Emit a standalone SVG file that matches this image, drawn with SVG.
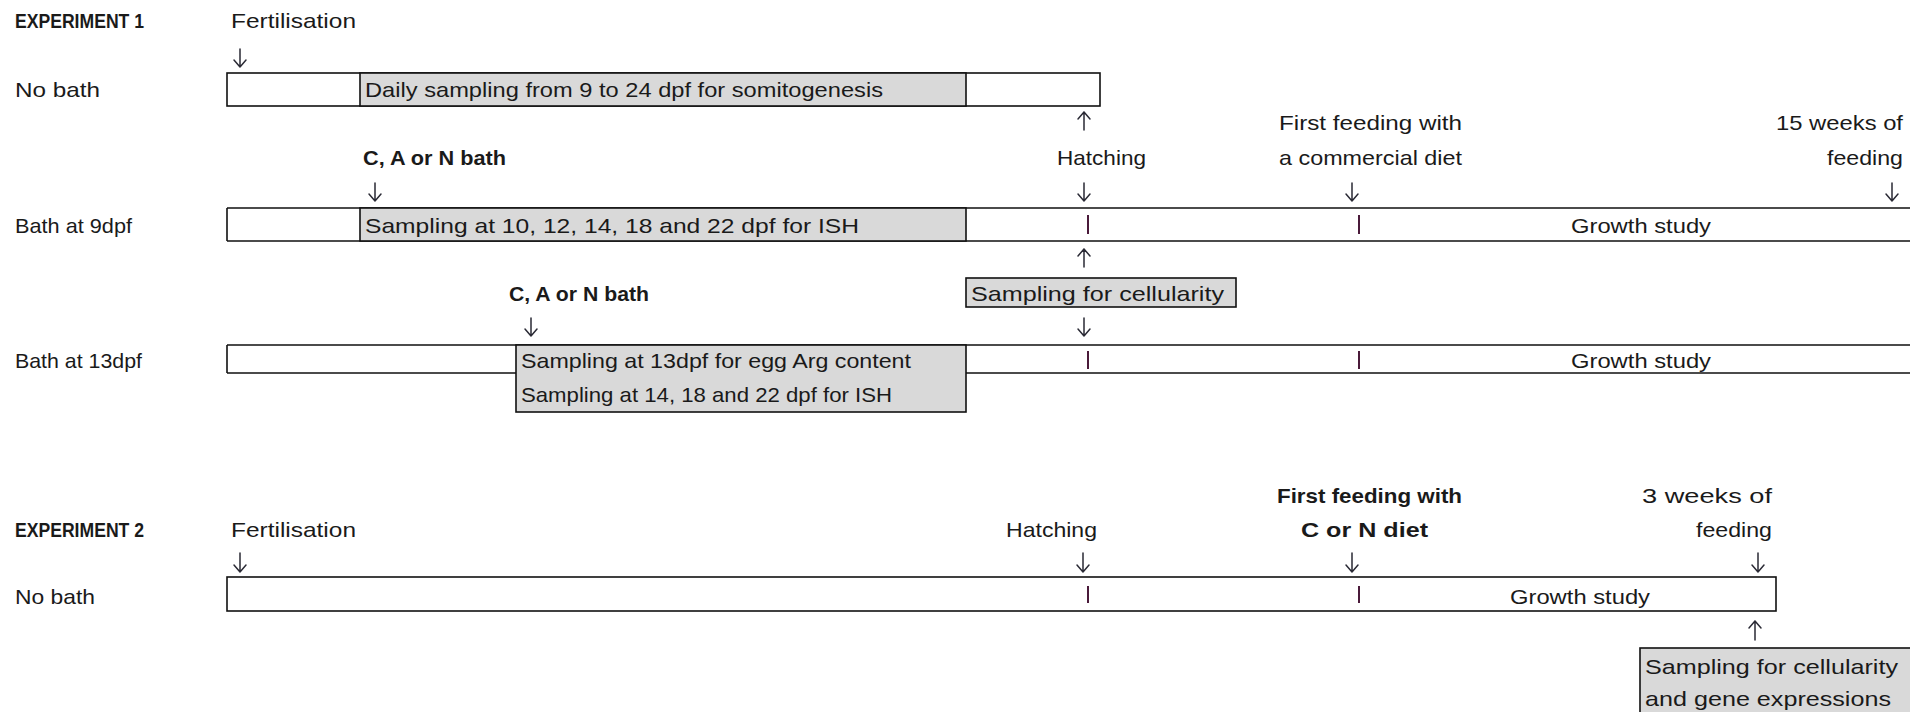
<svg xmlns="http://www.w3.org/2000/svg" width="1910" height="712" viewBox="0 0 1910 712">
<style>
text{font-family:"Liberation Sans",Arial,sans-serif;font-size:21px;fill:#1a1a1a}
.b{font-weight:bold}
.w{fill:#fff;stroke:#111;stroke-width:1.6}
.g{fill:#d9d9d9;stroke:#111;stroke-width:1.6}
.ln{fill:none;stroke:#111;stroke-width:1.6}
.ar{fill:none;stroke:#2a2a35;stroke-width:1.5;stroke-linecap:round;stroke-linejoin:round}
.tk{stroke:#4a1a3a;stroke-width:2}
</style>
<rect width="1910" height="712" fill="#fff"/>
<g id="labels">
<text class="b" x="15" y="28" textLength="129" lengthAdjust="spacingAndGlyphs">EXPERIMENT 1</text>
<text x="15" y="97" textLength="85" lengthAdjust="spacingAndGlyphs">No  bath</text>
<text x="15" y="233" textLength="117" lengthAdjust="spacingAndGlyphs">Bath at 9dpf</text>
<text x="15" y="368" textLength="127" lengthAdjust="spacingAndGlyphs">Bath at 13dpf</text>
<text class="b" x="15" y="537" textLength="129" lengthAdjust="spacingAndGlyphs">EXPERIMENT 2</text>
<text x="15" y="604" textLength="80" lengthAdjust="spacingAndGlyphs">No bath</text>
</g>
<g id="events">
<text x="231" y="28" textLength="125" lengthAdjust="spacingAndGlyphs">Fertilisation</text>
<text x="1057" y="165" textLength="89" lengthAdjust="spacingAndGlyphs">Hatching</text>
<text x="1279" y="130" textLength="183" lengthAdjust="spacingAndGlyphs">First feeding with</text>
<text x="1279" y="165" textLength="183" lengthAdjust="spacingAndGlyphs">a commercial diet</text>
<text x="1776" y="130" textLength="127" lengthAdjust="spacingAndGlyphs">15 weeks of</text>
<text x="1827" y="165" textLength="76" lengthAdjust="spacingAndGlyphs">feeding</text>
<text class="b" x="363" y="165" textLength="143" lengthAdjust="spacingAndGlyphs">C, A or N bath</text>
<text class="b" x="509" y="301" textLength="140" lengthAdjust="spacingAndGlyphs">C, A or N bath</text>
<text x="231" y="537" textLength="125" lengthAdjust="spacingAndGlyphs">Fertilisation</text>
<text x="1006" y="537" textLength="91" lengthAdjust="spacingAndGlyphs">Hatching</text>
<text class="b" x="1277" y="503" textLength="185" lengthAdjust="spacingAndGlyphs">First feeding with</text>
<text class="b" x="1301" y="537" textLength="127" lengthAdjust="spacingAndGlyphs">C or N diet</text>
<text x="1642" y="503" textLength="130" lengthAdjust="spacingAndGlyphs">3 weeks of</text>
<text x="1696" y="537" textLength="76" lengthAdjust="spacingAndGlyphs">feeding</text>
</g>
<g id="row1">
<rect class="w" x="227" y="73" width="873" height="33"/>
<rect class="g" x="360" y="73" width="606" height="33"/>
<text x="365" y="97" textLength="518" lengthAdjust="spacingAndGlyphs">Daily sampling from 9 to 24 dpf  for somitogenesis</text>
</g>
<g id="row2">
<path class="ln" d="M227 208H1912M227 241H1912M227 208V241"/>
<rect class="g" x="360" y="208" width="606" height="33"/>
<text x="365" y="233" textLength="494" lengthAdjust="spacingAndGlyphs">Sampling at 10, 12, 14, 18 and 22 dpf for ISH</text>
<text x="1571" y="233" textLength="140" lengthAdjust="spacingAndGlyphs">Growth study</text>
</g>
<g id="cellularity1">
<rect class="g" x="966" y="278" width="270" height="29"/>
<text x="971" y="301" textLength="253" lengthAdjust="spacingAndGlyphs">Sampling for cellularity</text>
</g>
<g id="row3">
<path class="ln" d="M227 345H1912M227 373H1912M227 345V373"/>
<rect class="g" x="516" y="345" width="450" height="67"/>
<text x="521" y="368" textLength="390" lengthAdjust="spacingAndGlyphs">Sampling at 13dpf for egg Arg content</text>
<text x="521" y="402" textLength="371" lengthAdjust="spacingAndGlyphs">Sampling at 14, 18 and 22 dpf for ISH</text>
<text x="1571" y="368" textLength="140" lengthAdjust="spacingAndGlyphs">Growth study</text>
</g>
<g id="row4">
<rect class="w" x="227" y="577" width="1549" height="34"/>
<text x="1510" y="604" textLength="140" lengthAdjust="spacingAndGlyphs">Growth study</text>
</g>
<g id="cellularity2">
<rect class="g" x="1640" y="648" width="275" height="70"/>
<text x="1645" y="674" textLength="253" lengthAdjust="spacingAndGlyphs">Sampling for cellularity</text>
<text x="1645" y="706" textLength="246" lengthAdjust="spacingAndGlyphs">and gene expressions</text>
</g>
<g id="connectors">
<path class="ar" d="M240 49V67M234 60L240 67L246 60"/>
<path class="ar" d="M1084 112V130M1078 119L1084 112L1090 119"/>
<path class="ar" d="M375 183V201M369 194L375 201L381 194"/>
<path class="ar" d="M1084 183V201M1078 194L1084 201L1090 194"/>
<path class="ar" d="M1352 183V201M1346 194L1352 201L1358 194"/>
<path class="ar" d="M1892 183V201M1886 194L1892 201L1898 194"/>
<path class="ar" d="M1084 249V267M1078 256L1084 249L1090 256"/>
<path class="ar" d="M531 318V336M525 329L531 336L537 329"/>
<path class="ar" d="M1084 318V336M1078 329L1084 336L1090 329"/>
<path class="ar" d="M240 553V572M234 565L240 572L246 565"/>
<path class="ar" d="M1083 553V572M1077 565L1083 572L1089 565"/>
<path class="ar" d="M1352 553V572M1346 565L1352 572L1358 565"/>
<path class="ar" d="M1758 553V572M1752 565L1758 572L1764 565"/>
<path class="ar" d="M1755 621V640M1749 628L1755 621L1761 628"/>
<path class="tk" d="M1088 215V234M1359 215V234M1088 351V369M1359 351V369M1088 586V603M1359 586V603"/>
</g>
</svg>
